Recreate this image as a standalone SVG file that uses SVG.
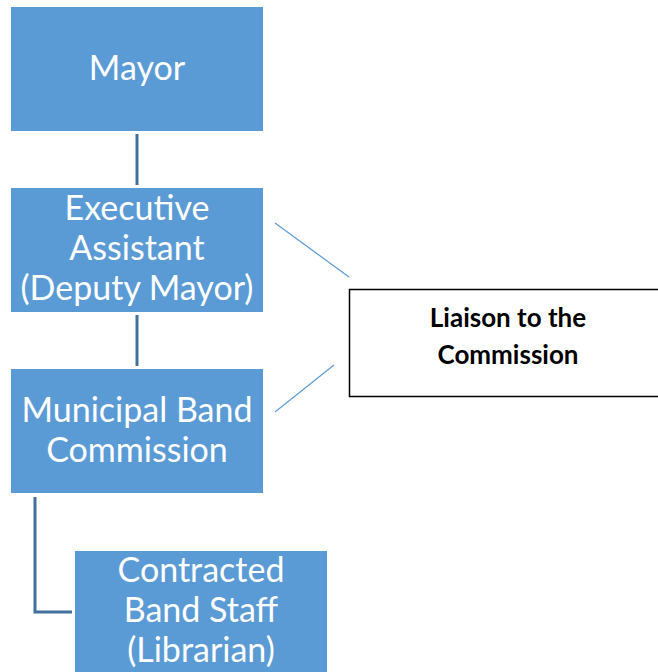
<svg xmlns="http://www.w3.org/2000/svg" width="658" height="672" viewBox="0 0 658 672">
<style>
.box{fill:#5b9bd5;}
.t{font-family:Lato,"Open Sans","Liberation Sans",sans-serif;font-size:34px;fill:#ffffff;text-anchor:middle;}
.lt{font-family:Lato,"Open Sans","Liberation Sans",sans-serif;font-size:26px;font-weight:bold;fill:#000000;text-anchor:middle;}
.c{stroke:#41719c;stroke-width:3;fill:none;}
.d{stroke:#5b9bd5;stroke-width:1.2;fill:none;}
</style>
<rect width="658" height="672" fill="#ffffff"/>
<g id="connectors">
<line class="c" x1="137" y1="134" x2="137" y2="185"/>
<line class="c" x1="137" y1="315" x2="137" y2="366"/>
<polyline class="c" points="35,497 35,612 72,612"/>
<line class="d" x1="275" y1="223" x2="349" y2="277"/>
<line class="d" x1="334" y1="365" x2="275" y2="412"/>
</g>
<g id="mayor">
<rect class="box" x="11" y="7" width="252" height="124"/>
<text class="t" x="137" y="80">Mayor</text>
</g>
<g id="executive-assistant">
<rect class="box" x="11" y="188" width="252" height="124"/>
<text class="t" x="137" y="220">Executive</text>
<text class="t" x="137" y="260">Assistant</text>
<text class="t" x="137" y="300">(Deputy Mayor)</text>
</g>
<g id="municipal-band-commission">
<rect class="box" x="11" y="369" width="252" height="124"/>
<text class="t" x="137" y="422">Municipal Band</text>
<text class="t" x="137" y="462">Commission</text>
</g>
<g id="contracted-band-staff">
<rect class="box" x="75" y="551" width="252" height="124"/>
<text class="t" x="201" y="582">Contracted</text>
<text class="t" x="201" y="622">Band Staff</text>
<text class="t" x="201" y="662">(Librarian)</text>
</g>
<g id="liaison">
<rect x="349.5" y="289.5" width="320" height="107" fill="#ffffff" stroke="#000000" stroke-width="1.5"/>
<text class="lt" x="508" y="327">Liaison to the</text>
<text class="lt" x="508" y="364">Commission</text>
</g>
</svg>
